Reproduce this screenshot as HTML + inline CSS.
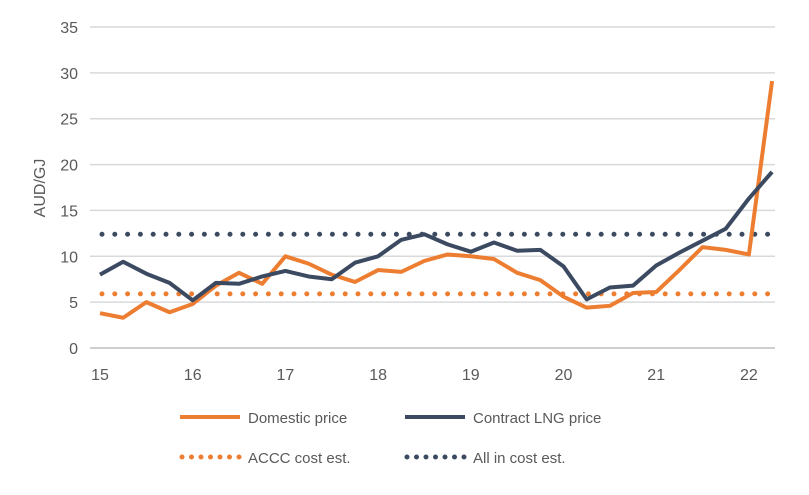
<!DOCTYPE html>
<html><head><meta charset="utf-8"><style>
body{margin:0;background:#fff;font-family:"Liberation Sans",sans-serif}
svg text{font-family:"Liberation Sans",sans-serif;fill:#595959}
</style></head><body>
<svg id="chart" width="809" height="490" xmlns="http://www.w3.org/2000/svg">
<g id="grid"></g>
<g id="yaxis"></g>
<g id="xaxis"></g>
<text transform="translate(45,188) rotate(-90)" text-anchor="middle" font-size="16">AUD/GJ</text>
<g id="series"></g>
<g>
<g><line x1="180" y1="417" x2="240" y2="417" stroke="#ED7D31" stroke-width="4"/><text x="248" y="423" font-size="15">Domestic price</text></g>
<g><line x1="405" y1="417" x2="465" y2="417" stroke="#3B4A61" stroke-width="4"/><text x="473" y="423" font-size="15">Contract LNG price</text></g>
<g><line x1="182" y1="457" x2="240" y2="457" stroke="#ED7D31" stroke-width="5" stroke-dasharray="0 9.5" stroke-linecap="round"/><text x="248" y="463" font-size="15">ACCC cost est.</text></g>
<g><line x1="407" y1="457" x2="465" y2="457" stroke="#3B4A61" stroke-width="5" stroke-dasharray="0 9.5" stroke-linecap="round"/><text x="473" y="463" font-size="15">All in cost est.</text></g>
</g>
</svg>
<script>
const xTicks=[15,16,17,18,19,20,21,22];
const yTicks=[0,5,10,15,20,25,30,35];
const quarters=[15,15.25,15.5,15.75,16,16.25,16.5,16.75,17,17.25,17.5,17.75,18,18.25,18.5,18.75,19,19.25,19.5,19.75,20,20.25,20.5,20.75,21,21.25,21.5,21.75,22,22.25];
const domestic=[3.8,3.3,5.0,3.9,4.8,6.8,8.2,7.0,10.0,9.2,8.0,7.2,8.5,8.3,9.5,10.2,10.0,9.7,8.2,7.4,5.6,4.4,4.6,6.0,6.1,8.5,11.0,10.7,10.2,29.1];
const contract=[8.0,9.4,8.1,7.1,5.2,7.1,7.0,7.8,8.4,7.8,7.5,9.3,10.0,11.8,12.4,11.3,10.5,11.5,10.6,10.7,8.9,5.3,6.6,6.8,9.0,10.4,11.7,13.0,16.3,19.2];
const acccCost=[5.9];
const allInCost=[12.4];
const NS="http://www.w3.org/2000/svg";
const X=v=>100+(v-15)*92.7;
const Y=v=>348-v*9.171;
const x0=90,x1=775;
function mk(t,a,p){const e=document.createElementNS(NS,t);for(const k in a)e.setAttribute(k,a[k]);p.appendChild(e);return e;}
const grid=document.getElementById('grid'),ya=document.getElementById('yaxis'),xa=document.getElementById('xaxis'),se=document.getElementById('series');
yTicks.forEach(v=>{
 const l=mk('line',{x1:x0,x2:x1,y1:Y(v),y2:Y(v),stroke:v===0?'#BFBFBF':'#D9D9D9','stroke-width':1.5},grid);
 
 
 const t=mk('text',{x:78,y:Y(v)+6,'text-anchor':'end','font-size':16},ya);t.textContent=v;
 
 
});
xTicks.forEach(v=>{
 const t=mk('text',{x:X(v),y:380,'text-anchor':'middle','font-size':16},xa);t.textContent=v;
 
 
});
function hline(v,c,n){
 const l=mk('line',{x1:X(15)+2,x2:X(22.25),y1:Y(v),y2:Y(v),stroke:c,'stroke-width':5,'stroke-dasharray':'0 12.8','stroke-linecap':'round'},se);
 
 
}
hline(acccCost[0],'#ED7D31','accc-cost-line');
hline(allInCost[0],'#3B4A61','all-in-cost-line');
function path(d,c,n){
 const p=mk('polyline',{points:d.map((v,i)=>X(quarters[i])+','+Y(v)).join(' '),fill:'none',stroke:c,'stroke-width':4,'stroke-linejoin':'round'},se);
 
 
}
path(domestic,'#ED7D31','domestic-price-line');
path(contract,'#3B4A61','contract-lng-price-line');
</script>
</body></html>
